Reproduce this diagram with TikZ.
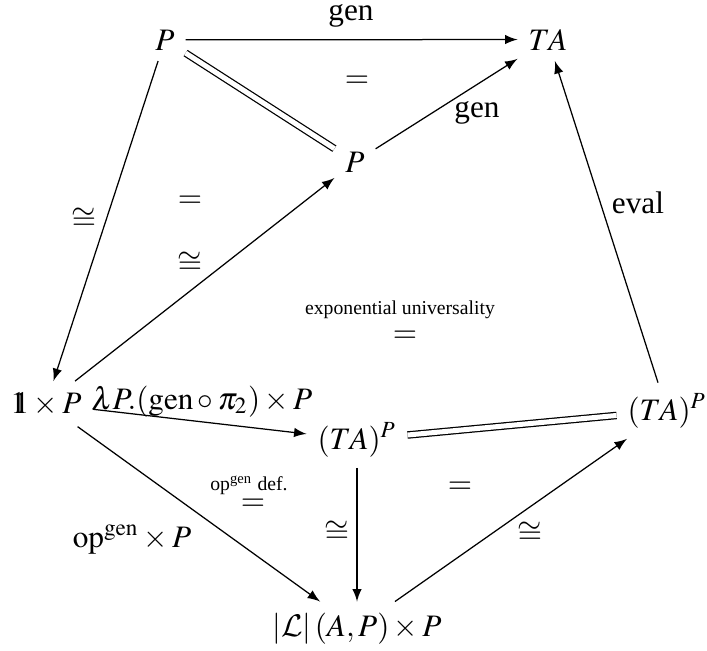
\documentclass[tikz,border=0pt]{standalone}
\usepackage{amsmath}
\usepackage{mathptmx}
\usepackage{fontspec}
\setmainfont{Liberation Serif}
\usepackage{tikz}
\DeclareMathAlphabet{\mathcal}{OMS}{cmsy}{m}{n}
\newcommand{\unitobj}{\mathord{\mathrm{1}\mkern-7mu\mathrm{1}}}
\newcommand{\smallfont}{\fontsize{6.3}{7}\selectfont}

\begin{document}
\begin{tikzpicture}[
  x=0.32pt, y=-0.32pt,
  obj/.style={anchor=base},
  lbl/.style={inner sep=1pt},
  note/.style={inner sep=0pt, font=\smallfont},
  arr/.style={-latex},
  eqline/.style={double, double distance=1.6pt}
]
\useasboundingbox (0,0) rectangle (707,650);
\node[obj] (ptop) at (165,50) {$P$};
\node[obj] (ta) at (548,50) {$TA$};
\node[obj] (pmid) at (355,172) {$P$};
\node[obj] (unitp) at (46,413) {$\unitobj\times P$};
\node[obj] (tapmid) at (357,449) {$(TA)^P$};
\node[obj] (tapright) at (667,420) {$(TA)^P$};
\node[obj] (lp) at (357,636) {$|\mathcal{L}|\,(A,P)\times P$};

\node[lbl, anchor=base] (gentop) at (351,20) {gen};
\node[lbl] (eqtop) at (357,82) {$=$};
\node[lbl] (genmid) at (477,113) {gen};
\node[lbl] (isoleft) at (84,219) {$\cong$};
\node[lbl] (eqleft) at (190,202) {$=$};
\node[lbl] (isoinner) at (190,263) {$\cong$};
\node[lbl] (eval) at (638,203) {eval};
\node[note] (expuni) at (400,310) {exponential universality};
\node[lbl] (eqexp) at (405,337) {$=$};
\node[lbl, anchor=base] (lam) at (202,409) {$\lambda P.(\mathrm{gen}\circ\pi_2)\times P$};
\node[note] (opdef) at (249,485) {op\textsuperscript{gen} def.};
\node[lbl] (eqopdef) at (253,505) {$=$};
\node[lbl, anchor=base] (opgen) at (132,547) {$\mathrm{op}^{\mathrm{gen}}\times P$};
\node[lbl] (isovert) at (337,532) {$\cong$};
\node[lbl] (eqright) at (460,488) {$=$};
\node[lbl] (isoright) at (530,533) {$\cong$};

\draw[arr] (ptop) -- (ta);
\draw[eqline] (ptop) -- (pmid);
\draw[arr] (pmid) -- (ta);
\draw[arr] (ptop) -- (unitp);
\draw[arr] (unitp) -- (pmid);
\draw[arr] (tapright) -- (ta);
\draw[arr] (unitp) -- (tapmid);
\draw[eqline] (tapmid) -- (tapright);
\draw[arr] (unitp) -- (lp);
\draw[arr] (tapmid) -- (lp);
\draw[arr] (lp) -- (tapright);
\end{tikzpicture}
\end{document}
